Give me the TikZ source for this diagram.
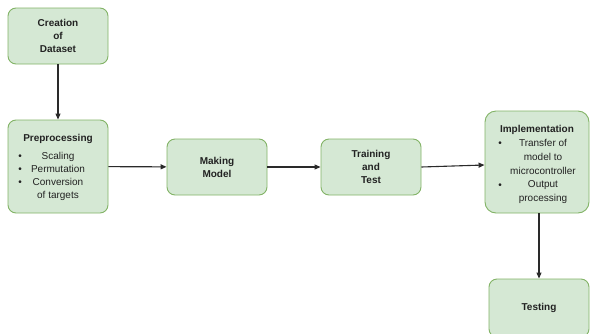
\documentclass[tikz,border=0pt]{standalone}
\usepackage{fontspec}
\setmainfont{Liberation Sans}
\usetikzlibrary{arrows.meta}
\definecolor{boxfill}{HTML}{D5E8D4}
\definecolor{boxline}{HTML}{82B366}
\definecolor{ink}{HTML}{222222}
\definecolor{arr}{HTML}{2A2A2A}
\begin{document}
\begin{tikzpicture}[x=1pt,y=-1pt,
  box/.style={draw=boxline,fill=boxfill,line width=0.9pt,rounded corners=8pt,inner sep=0pt,align=center,text=ink,font=\fontsize{10}{13}\selectfont\bfseries},
  txt/.style={inner sep=0pt,align=center,text=ink,font=\fontsize{10}{13}\selectfont},
  ttl/.style={inner sep=0pt,align=center,text=ink,font=\fontsize{10}{13}\selectfont\bfseries},
  conn/.style={draw=arr,line width=1.1pt,-{Triangle[length=6pt,width=5pt]}}]
\useasboundingbox (0,0) rectangle (590,333);
\node[box,minimum width=100pt,minimum height=56pt] (create) at (58,36) {Creation\\of\\Dataset};
\node[box,minimum width=100pt,minimum height=93pt] (pre) at (58,166.5) {};
\node[ttl] (pret) at (58,139) {Preprocessing};
\node[txt] (prel) at (58,176.5) {Scaling\\Permutation\\Conversion\\of targets};
\node[txt] (preb) at (20,170) {•\\•\\•};
\node[box,minimum width=100pt,minimum height=56pt] (make) at (217,167) {Making\\Model};
\node[box,minimum width=100pt,minimum height=56pt] (train) at (371,167) {Training\\and\\Test};
\node[box,minimum width=104pt,minimum height=102pt,rounded corners=11pt] (impl) at (537,162) {};
\node[ttl] (implt) at (537,130) {Implementation};
\node[txt,font=\fontsize{10}{13.7}\selectfont] (impll) at (543,171.5) {Transfer of\\model to\\microcontroller\\Output\\processing};
\node[txt,font=\fontsize{10}{13.7}\selectfont] (implb1) at (500,144) {•};
\node[txt,font=\fontsize{10}{13.7}\selectfont] (implb2) at (500,186) {•};
\node[box,minimum width=100pt,minimum height=58pt] (test) at (539,308) {Testing};
\draw[conn] (create) -- (pre);
\draw[conn] (pre) -- (make);
\draw[conn] (make) -- (train);
\draw[conn] (train.east) -- ([yshift=-3pt]impl.west);
\draw[conn] (impl.south -| test.north) -- (test.north);
\end{tikzpicture}
\end{document}
